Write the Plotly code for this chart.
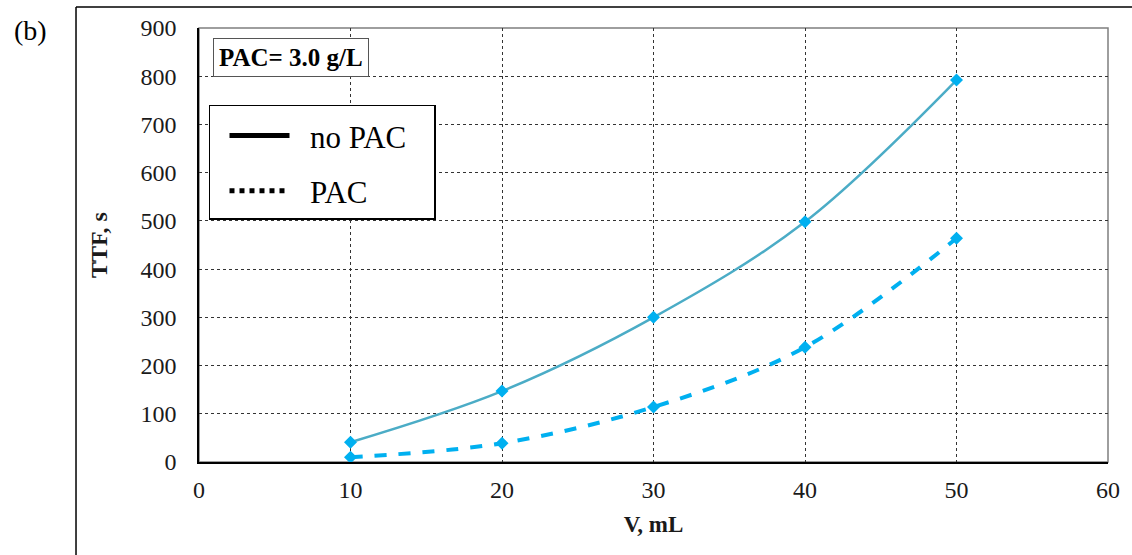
import plotly.graph_objects as go

V = [10, 20, 30, 40, 50]
ttf_no_pac = [41, 147, 300, 498, 792]
ttf_pac = [10, 39, 114, 238, 464]
x_ticks = [0, 10, 20, 30, 40, 50, 60]
y_ticks = [0, 100, 200, 300, 400, 500, 600, 700, 800, 900]

FONT = "Liberation Serif, Times New Roman, serif"
NB = "\u00a0"

fig = go.Figure()

fig.add_trace(go.Scatter(
    x=V, y=ttf_no_pac, mode="lines+markers", showlegend=False,
    line=dict(color="#4bacc6", width=2.5, shape="spline"),
    marker=dict(symbol="diamond", size=10, color="#00b0f0"),
))
fig.add_trace(go.Scatter(
    x=V, y=ttf_pac, mode="lines+markers", showlegend=False,
    line=dict(color="#00b0f0", width=4, dash="dash", shape="spline"),
    marker=dict(symbol="diamond", size=10, color="#00b0f0"),
))
# legend entries (black samples as in the reference)
fig.add_trace(go.Scatter(
    x=[None], y=[None], mode="lines", name=NB * 2 + "no PAC" + NB * 3, legendgroup="a",
    line=dict(color="black", width=5),
))
fig.add_trace(go.Scatter(
    x=[None], y=[None], mode="lines", name=NB * 2 + "PAC", legendgroup="b",
    line=dict(color="black", width=5, dash="dot"),
))

fig.update_layout(
    width=1132, height=555,
    margin=dict(l=199, r=24, t=28, b=93),
    paper_bgcolor="white", plot_bgcolor="white",
    font=dict(family=FONT, color="#1a1a1a", size=24),
    showlegend=True,
    legend=dict(
        x=0.011, y=0.823, xanchor="left", yanchor="top",
        bgcolor="white", bordercolor="black", borderwidth=1.5,
        font=dict(family=FONT, size=31, color="black"),
        traceorder="grouped", tracegroupgap=12,
        itemwidth=60, indentation=14,
        title=dict(text=NB, font=dict(family=FONT, size=2)),
    ),
    xaxis=dict(
        range=[0, 60], tickvals=x_ticks, ticks="",
        showgrid=True, gridcolor="#333333", gridwidth=1, griddash="3px,3px",
        showline=True, linecolor="black", linewidth=1.5,
        zeroline=False, ticklabelstandoff=5,
        title=dict(text="<b>V, mL</b>", font=dict(family=FONT, size=23), standoff=14),
        tickfont=dict(family=FONT, size=24),
    ),
    yaxis=dict(
        range=[0, 900], tickvals=y_ticks, ticks="",
        showgrid=True, gridcolor="#333333", gridwidth=1, griddash="3px,3px",
        showline=True, linecolor="black", linewidth=1.5,
        zeroline=False, ticklabelstandoff=16,
        title=dict(text="<b>TTF, s</b>", font=dict(family=FONT, size=24), standoff=26),
        tickfont=dict(family=FONT, size=24),
    ),
    shapes=[
        dict(type="rect", xref="paper", yref="paper", x0=0, y0=0, x1=1, y1=1,
             line=dict(color="#7f7f7f", width=1.5), layer="below"),
        dict(type="line", xref="paper", yref="paper", x0=-0.1353, x1=1.03,
             y0=1.0484, y1=1.0484, line=dict(color="black", width=1.5)),
        dict(type="line", xref="paper", yref="paper", x0=-0.1353, x1=-0.1353,
             y0=1.0484, y1=-0.22, line=dict(color="black", width=1.5)),
    ],
    annotations=[
        dict(text="<b>PAC= 3.0 g/L</b>", xref="paper", yref="paper",
             x=0.0155, y=0.977, xanchor="left", yanchor="top", showarrow=False,
             font=dict(family=FONT, size=25, color="black"),
             bordercolor="#555555", borderwidth=1, borderpad=5, bgcolor="white"),
        dict(text="(b)", xref="paper", yref="paper",
             x=-0.206, y=1.035, xanchor="left", yanchor="top", showarrow=False,
             font=dict(family=FONT, size=28, color="black")),
    ],
)

fig.write_html("out.html")
